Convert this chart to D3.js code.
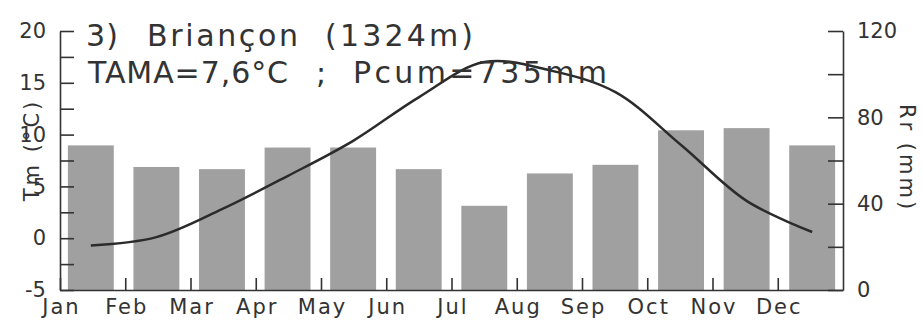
<!DOCTYPE html>
<html>
<head>
<meta charset="utf-8">
<script src="https://cdn.jsdelivr.net/npm/d3@7"></script>
<style>
  html, body { margin: 0; padding: 0; background: #fff; }
  svg { display: block; font-family: "DejaVu Sans", sans-serif; }
  .axis path, .axis line { stroke: #333; stroke-width: 1.6; }
  .axis text { fill: #333; font-size: 21px; font-family: "DejaVu Sans", sans-serif; }
  .lbl { fill: #333; }
</style>
</head>
<body>
<svg id="chart" width="923" height="327"></svg>
<script>
// Briançon (1324 m): monthly mean temperature and precipitation
const months = ["Jan","Feb","Mar","Apr","May","Jun","Jul","Aug","Sep","Oct","Nov","Dec"];
const precip = [67, 57, 56, 66, 66, 56, 39, 54, 58, 74, 75, 67];           // Rr (mm)
const temp   = [-0.7, 0.1, 2.8, 6.0, 9.4, 13.6, 17.0, 16.2, 14.1, 9.0, 3.6, 0.6]; // Tm (°C)
const tempTicks   = [-5, -2.5, 0, 2.5, 5, 7.5, 10, 12.5, 15, 17.5, 20];
const precipTicks = [0, 20, 40, 60, 80, 100, 120];

const svg = d3.select("#chart");
const plotLeft = 60, plotRight = 843, plotTop = 31, plotBottom = 290;

const x  = d3.scaleBand().domain(months).range([plotLeft, plotRight]).paddingInner(0.3).paddingOuter(0.12);
const xb = d3.scaleLinear().domain([0, 12]).range([plotLeft, plotRight]);
const yT = d3.scaleLinear().domain([-5, 20]).range([plotBottom, plotTop]);
const yP = d3.scaleLinear().domain([0, 120]).range([plotBottom, plotTop]);

// precipitation bars
svg.append("g").selectAll("rect").data(months).join("rect")
  .attr("x", d => x(d))
  .attr("y", (d, i) => yP(precip[i]))
  .attr("width", x.bandwidth())
  .attr("height", (d, i) => yP(0) - yP(precip[i]))
  .attr("fill", "#a0a0a0");

// axes
svg.append("g").attr("class", "axis")
  .attr("transform", `translate(${plotLeft},0)`)
  .call(d3.axisLeft(yT).tickValues(tempTicks).tickSize(-14).tickSizeOuter(0).tickPadding(14)
    .tickFormat(d => d % 5 === 0 ? (d < 0 ? "-" + Math.abs(d) : d) : ""));

svg.append("g").attr("class", "axis")
  .attr("transform", `translate(${plotRight},0)`)
  .call(d3.axisRight(yP).tickValues(precipTicks).tickSize(-15).tickSizeOuter(0).tickPadding(14)
    .tickFormat(d => d % 40 === 0 ? d : ""));

const xAxis = svg.append("g").attr("class", "axis")
  .attr("transform", `translate(0,${plotBottom})`)
  .call(d3.axisBottom(xb).tickValues(d3.range(0, 12)).tickSize(-12).tickSizeOuter(0).tickPadding(9)
    .tickFormat(i => months[i]));
xAxis.selectAll("text").style("letter-spacing", "2px").attr("dx", "1px");

// temperature curve
const line = d3.line()
  .x((d, i) => x(months[i]) + x.bandwidth() / 2)
  .y(d => yT(d))
  .curve(d3.curveCatmullRom.alpha(0.5));
svg.append("path").datum(temp)
  .attr("d", line)
  .attr("fill", "none")
  .attr("stroke", "#2b2b2b")
  .attr("stroke-width", 2.5)
  .attr("stroke-linejoin", "round");

// title lines
const titleParts = [
  {t: "3)", x: 86, y: 46, w: 32},
  {t: "Briançon", x: 147, y: 46, w: 151},
  {t: "(1324m)", x: 325, y: 46, w: 148},
  {t: "TAMA=7,6°C", x: 88, y: 83, w: 200},
  {t: ";", x: 316, y: 83, w: 6},
  {t: "Pcum=735mm", x: 353, y: 83, w: 254}
];
svg.append("g").selectAll("text").data(titleParts).join("text")
  .attr("class", "lbl")
  .attr("x", d => d.x).attr("y", d => d.y)
  .attr("textLength", d => d.w).attr("lengthAdjust", "spacing")
  .style("font-size", "30px")
  .text(d => d.t);

// axis titles
svg.append("text").attr("class", "lbl")
  .attr("transform", "translate(39,150) rotate(-90)")
  .attr("text-anchor", "middle")
  .style("font-size", "21px").style("letter-spacing", "3px")
  .text("Tm (°C)");

svg.append("text").attr("class", "lbl")
  .attr("transform", "translate(900,158) rotate(90)")
  .attr("text-anchor", "middle")
  .style("font-size", "21px").style("letter-spacing", "3px")
  .text("Rr (mm)");
</script>
</body>
</html>
